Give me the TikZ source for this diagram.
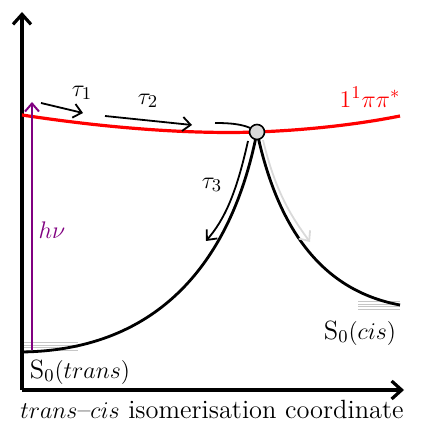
\documentclass[tikz,border=0pt]{standalone}
\usetikzlibrary{arrows.meta}
\begin{document}
\begin{tikzpicture}[x=0.5pt,y=-0.5pt,
  lbl/.style={font=\fontsize{13.2}{15}\selectfont, inner sep=0pt},
  axis/.style={line width=1.6pt,-{Straight Barb[length=5pt,width=9pt]}},
  pes/.style={line width=1.4pt},
  tarr/.style={line width=0.9pt,-{Straight Barb[length=4pt,width=7pt]}},
  vib/.style={gray!45,line width=0.5pt}]
\useasboundingbox (0,0) rectangle (433,421);
\definecolor{pur}{RGB}{128,0,128}
% vibrational levels
\foreach \yy in {343,345.5,348,350.5} \draw[vib] (22,\yy) -- (78,\yy);
\foreach \yy in {302,304.5,307,309.5} \draw[vib] (358,\yy) -- (400,\yy);
% axes
\coordinate (o) at (22,390);
\coordinate (yt) at (22,12);
\coordinate (xr) at (404,390);
\draw[axis] (o) -- (yt);
\draw[axis] (o) -- (xr);
% conical intersection
\coordinate (ci) at (257,132);
% S0 curves
\draw[pes] (22,352) .. controls (160,350) and (232,260) .. (ci);
\draw[pes] (ci) .. controls (280,240) and (330,292) .. (400,305);
% excited state
\draw[red,line width=1.6pt] (22,115) .. controls (120,130) and (200,134) .. (ci)
   .. controls (310,130) and (360,124) .. (400,116);
% arrows
\draw[pur,line width=1pt,-{Straight Barb[length=4pt,width=7pt]}] (32,350) -- (32,102);
\node[lbl,text=pur] (hnu) at (52,230) {$h\nu$};
\draw[tarr] (41,103) -- (83,113);
\node[lbl] (t1) at (82,93) {$\tau_1$};
\draw[tarr] (105,116) -- (192,125);
\node[lbl] (t2) at (148,101) {$\tau_2$};
\draw[line width=0.9pt] (215,123) .. controls (235,123) and (248,125) .. (ci);
\draw[tarr] (248,141) .. controls (236,195) and (224,220) .. (206,241);
\node[lbl] (t3) at (212,185) {$\tau_3$};
\draw[tarr,gray!30] (263,140) .. controls (275,190) and (290,215) .. (310,242);
\node[draw,circle,fill=gray!30,line width=0.8pt,minimum size=7.5pt,inner sep=0pt] (cin) at (ci) {};
% labels
\node[lbl,text=red] (s1) at (370,97) {$1^1\pi\pi^*$};
\node[lbl] (s0c) at (360,333) {S$_0(cis)$};
\node[lbl] (s0t) at (80,372) {S$_0(trans)$};
\node[lbl] (xl) at (212,409) {$trans$--$cis$ isomerisation coordinate};
\end{tikzpicture}
\end{document}
